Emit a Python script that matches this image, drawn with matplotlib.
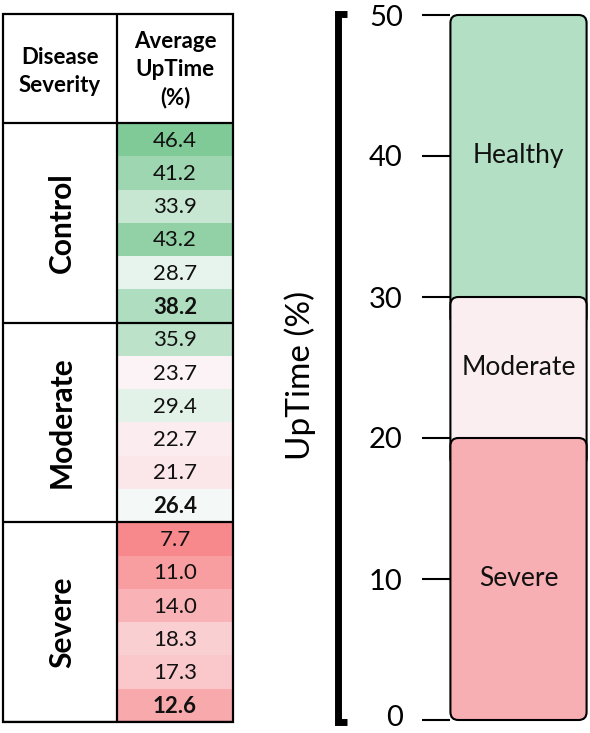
import matplotlib
matplotlib.use('Agg')
import matplotlib.pyplot as plt
from matplotlib.patches import Rectangle, FancyBboxPatch
from matplotlib.colors import LinearSegmentedColormap, TwoSlopeNorm
from matplotlib.lines import Line2D
from matplotlib.transforms import ScaledTranslation
import numpy as np

plt.rcParams['font.family'] = ['Lato', 'DejaVu Sans']

# ---------------- data ----------------
groups = ['Control', 'Moderate', 'Severe']
control_vals = [46.4, 41.2, 33.9, 43.2, 28.7, 38.2]
moderate_vals = [35.9, 23.7, 29.4, 22.7, 21.7, 26.4]
severe_vals = [7.7, 11.0, 14.0, 18.3, 17.3, 12.6]
header_left = 'Disease\nSeverity'
header_right = 'Average\nUpTime\n(%)'

band_labels = ['Healthy', 'Moderate', 'Severe']
band_low = [30, 20, 0]
band_high = [50, 30, 20]
band_colors = ['#b3e0c4', '#fbeef0', '#f8afb3']
yticks = [0, 10, 20, 30, 40, 50]
ylabel = 'UpTime (%)'

# ---------------- figure ----------------
W, H = 590, 733
fig = plt.figure(figsize=(W / 100, H / 100), dpi=100)


def fx(px):
    return px / W


def fy(py):
    return 1 - py / H


# ---------------- table ----------------
tx0, tx1, ty0, ty1 = 3, 233, 14, 722
col_div = 117
header_bot = 123
ax_t = fig.add_axes([fx(tx0), fy(ty1), (tx1 - tx0) / W, (ty1 - ty0) / H])
ax_t.set_xlim(tx0, tx1)
ax_t.set_ylim(ty1, ty0)
ax_t.axis('off')

group_vals = [control_vals, moderate_vals, severe_vals]
all_vals = [v for g in group_vals for v in g]
n_rows = len(all_vals)
row_h = (ty1 - header_bot) / n_rows
cmap = LinearSegmentedColormap.from_list('excel3', ['#f7888b', '#fcfcff', '#7fca97'])
norm = TwoSlopeNorm(vmin=min(all_vals), vcenter=float(np.median(all_vals)), vmax=max(all_vals))

lw_tab = 1.6
row = 0
for gi, (gname, vals) in enumerate(zip(groups, group_vals)):
    g_top = header_bot + row * row_h
    for k, v in enumerate(vals):
        y = header_bot + row * row_h
        ax_t.add_patch(Rectangle((col_div, y), tx1 - col_div, row_h,
                                 facecolor=cmap(norm(v)), edgecolor='none', zorder=1))
        bold = (k == len(vals) - 1)
        ax_t.text((col_div + tx1) / 2, y + row_h / 2 + 1, f'{v:.1f}', ha='center', va='center',
                  fontsize=16, fontweight='bold' if bold else 'normal', color='#111111', zorder=3)
        row += 1
    g_bot = header_bot + row * row_h
    ax_t.text((tx0 + col_div) / 2 + 2, (g_top + g_bot) / 2, gname, rotation=90, ha='center',
              va='center', fontsize=21.5, fontweight='bold', color='black', zorder=3)
    ax_t.add_line(Line2D([tx0, tx1], [g_bot, g_bot], color='black', lw=lw_tab, zorder=4))

# header
ax_t.text((tx0 + col_div) / 2, (ty0 + header_bot) / 2 + 3, header_left, ha='center', va='center',
          fontsize=16, fontweight='bold', linespacing=1.45)
ax_t.text((col_div + tx1) / 2, (ty0 + header_bot) / 2 + 1, header_right, ha='center', va='center',
          fontsize=16, fontweight='bold', linespacing=1.4)
# grid lines
ax_t.add_line(Line2D([tx0, tx1], [header_bot, header_bot], color='black', lw=lw_tab, zorder=4))
ax_t.add_line(Line2D([col_div, col_div], [ty0, ty1], color='black', lw=lw_tab, zorder=4))
ax_t.add_patch(Rectangle((tx0, ty0), tx1 - tx0, ty1 - ty0, facecolor='none',
                         edgecolor='black', lw=lw_tab, zorder=5, clip_on=False))

# ---------------- bar (bands) ----------------
bx0, bx1 = 450, 587
by_top, by_bot = 15, 720
ax_b = fig.add_axes([fx(bx0), fy(by_bot), (bx1 - bx0) / W, (by_bot - by_top) / H])
ax_b.set_xlim(0, 1)
ax_b.set_ylim(0, 50)
for s in ax_b.spines.values():
    s.set_visible(False)
ax_b.set_xticks([])
ax_b.set_yticks(yticks)
ax_b.set_yticklabels([str(t) for t in yticks])
ax_b.tick_params(axis='y', direction='out', length=20, width=1.5, pad=14, labelsize=21,
                 colors='black')
ax_b.patch.set_alpha(0)
# keep the bottom label inside the canvas
for lbl, t in zip(ax_b.get_yticklabels(), yticks):
    if t == 0:
        lbl.set_transform(lbl.get_transform() + ScaledTranslation(0, 4 / 100, fig.dpi_scale_trans))

px_per_x = (bx1 - bx0) / 1.0
px_per_y = (by_bot - by_top) / 50.0
aspect = px_per_x / px_per_y
r_px = 8
overlap = 2.0
for i, (lab, lo, hi, c) in enumerate(zip(band_labels, band_low, band_high, band_colors)):
    lo_draw = lo - overlap if lo > 0 else lo
    box = FancyBboxPatch((0.003, lo_draw), 0.994, hi - lo_draw,
                         boxstyle=f'round,pad=0,rounding_size={r_px / px_per_x}',
                         mutation_aspect=aspect, facecolor=c, edgecolor='black', lw=1.5,
                         zorder=2 + i, clip_on=False)
    ax_b.add_patch(box)
    ax_b.text(0.5, (lo + hi) / 2, lab, ha='center', va='center', fontsize=19,
              color='#111111', zorder=10)

# bracket
fig.add_artist(Line2D([fx(347), fx(338), fx(338), fx(347)], [fy(14), fy(14), fy(722), fy(722)],
                      color='black', lw=5, solid_joinstyle='miter', solid_capstyle='butt'))

fig.text(fx(300), fy(375), ylabel, rotation=90, ha='center', va='center', fontsize=24)

fig.savefig('out.png', dpi=100, facecolor='white')
